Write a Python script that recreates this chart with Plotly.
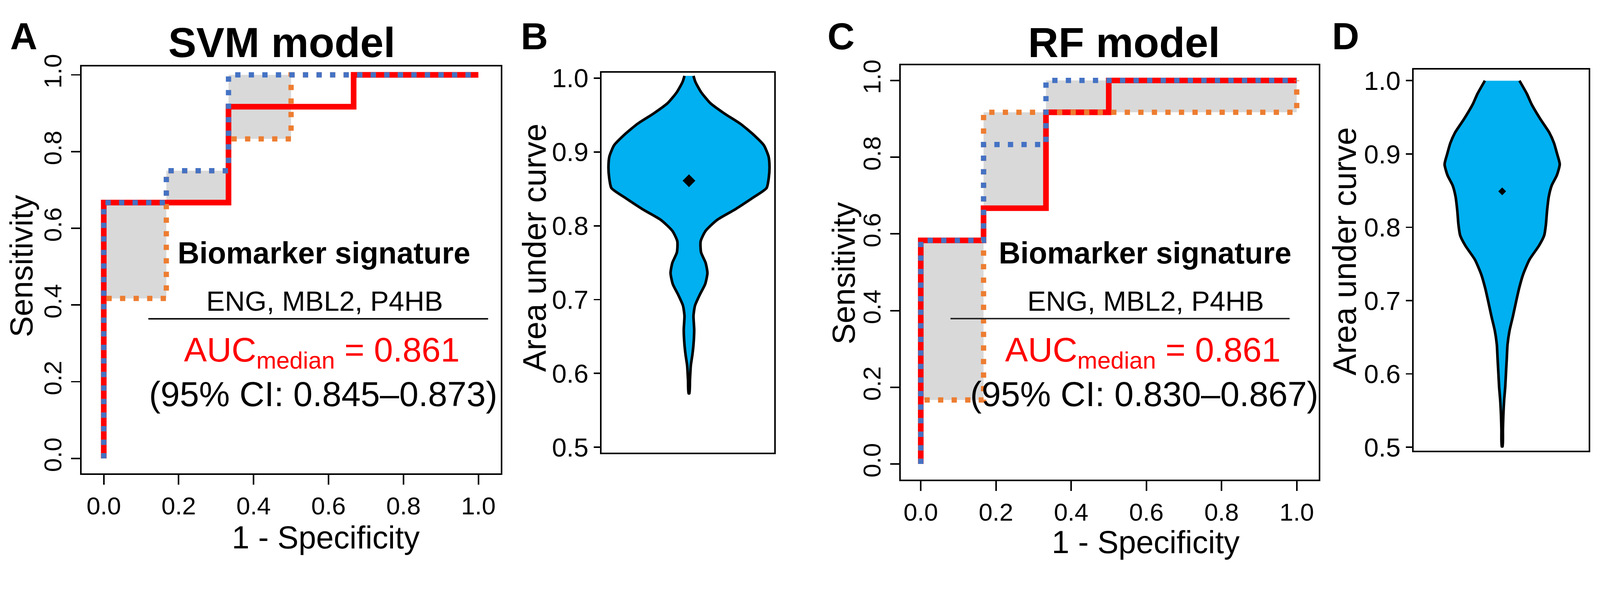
import plotly.graph_objects as go

W, H = 4252, 1535
FONT = "Liberation Sans, Arial, sans-serif"

# ---------------- data ----------------
# Panel A: SVM model ROC curves (corner points, drawn as horizontal-then-vertical steps)
svm_med_fpr = [0.0, 0.0, 0.333, 0.667, 1.0]
svm_med_tpr = [0.0, 0.667, 0.917, 1.0, 1.0]
svm_hi_fpr = [0.0, 0.0, 0.167, 0.333, 1.0]
svm_hi_tpr = [0.0, 0.667, 0.75, 1.0, 1.0]
svm_lo_fpr = [0.0, 0.0, 0.167, 0.333, 0.5, 1.0]
svm_lo_tpr = [0.0, 0.417, 0.75, 0.833, 1.0, 1.0]
svm_band_x = [0.0, 0.167, 0.333, 0.5]
svm_band_lo = [0.417, 0.667, 0.833]
svm_band_hi = [0.667, 0.75, 1.0]

# Panel C: RF model ROC curves
rf_med_fpr = [0.0, 0.0, 0.167, 0.333, 0.5, 1.0]
rf_med_tpr = [0.0, 0.583, 0.667, 0.917, 1.0, 1.0]
rf_hi_fpr = [0.0, 0.0, 0.167, 0.333, 1.0]
rf_hi_tpr = [0.0, 0.583, 0.833, 1.0, 1.0]
rf_lo_fpr = [0.0, 0.0, 0.167, 1.0]
rf_lo_tpr = [0.0, 0.167, 0.917, 1.0]
rf_band_x = [0.0, 0.167, 0.333, 1.0]
rf_band_lo = [0.167, 0.667, 0.917]
rf_band_hi = [0.583, 0.917, 1.0]

# Panel B: SVM AUC distribution (violin profile: AUC value, relative density)
svm_auc_y = [1.003, 0.995, 0.981, 0.966, 0.952, 0.938, 0.923, 0.909, 0.894, 0.880,
             0.865, 0.851, 0.837, 0.822, 0.808, 0.793, 0.779, 0.764, 0.750, 0.736,
             0.721, 0.707, 0.692, 0.678, 0.659, 0.639, 0.625, 0.611, 0.591, 0.573]
svm_auc_dens = [0.056, 0.079, 0.150, 0.266, 0.440, 0.640, 0.805, 0.930, 0.988, 1.000,
                0.991, 0.963, 0.780, 0.570, 0.350, 0.206, 0.145, 0.150, 0.206, 0.229,
                0.201, 0.136, 0.075, 0.056, 0.065, 0.056, 0.042, 0.023, 0.012, 0.005]
svm_auc_center = 0.861

# Panel D: RF AUC distribution
rf_auc_y = [1.0, 0.982, 0.968, 0.948, 0.929, 0.915, 0.900, 0.886, 0.871, 0.857,
            0.842, 0.823, 0.804, 0.789, 0.775, 0.756, 0.736, 0.717, 0.698, 0.678,
            0.659, 0.640, 0.621, 0.601, 0.582, 0.563, 0.543, 0.524, 0.501]
rf_auc_dens = [0.300, 0.430, 0.510, 0.660, 0.820, 0.900, 0.955, 1.000, 0.950, 0.860,
               0.810, 0.780, 0.760, 0.730, 0.640, 0.475, 0.365, 0.295, 0.240, 0.185,
               0.128, 0.093, 0.080, 0.066, 0.053, 0.033, 0.020, 0.013, 0.007]
rf_auc_center = 0.849

tick_roc = [0.0, 0.2, 0.4, 0.6, 0.8, 1.0]
tick_auc = [0.5, 0.6, 0.7, 0.8, 0.9, 1.0]

RED = "#FF0000"
BLUE = "#4472C4"
ORANGE = "#ED7D31"
GREY = "#D9D9D9"
VIOLIN = "#00B0F0"


def fx(px):
    return px / W


def fy(py):
    return 1 - py / H


def band_polygon(xe, lo, hi):
    xs, ys = [], []
    for i in range(len(lo)):
        xs += [xe[i], xe[i + 1]]
        ys += [lo[i], lo[i]]
    for i in reversed(range(len(hi))):
        xs += [xe[i + 1], xe[i]]
        ys += [hi[i], hi[i]]
    return xs, ys


def violin_outline(yv, dens):
    xs = list(dens) + [-d for d in dens[::-1]]
    ys = list(yv) + list(yv[::-1])
    return xs, ys


fig = go.Figure()


def add_roc(xa, ya, band, med, lo, hi):
    bx, by = band_polygon(*band)
    fig.add_trace(go.Scatter(x=bx, y=by, fill="toself", fillcolor=GREY, mode="lines",
                             line=dict(width=0, color=GREY), xaxis=xa, yaxis=ya,
                             showlegend=False, hoverinfo="skip"))
    fig.add_trace(go.Scatter(x=med[0], y=med[1], mode="lines", line_shape="hv",
                             line=dict(color=RED, width=15), xaxis=xa, yaxis=ya,
                             showlegend=False))
    fig.add_trace(go.Scatter(x=lo[0], y=lo[1], mode="lines", line_shape="hv",
                             line=dict(color=ORANGE, width=14, dash="14px,22px"),
                             xaxis=xa, yaxis=ya, showlegend=False))
    fig.add_trace(go.Scatter(x=hi[0], y=hi[1], mode="lines", line_shape="hv",
                             line=dict(color=BLUE, width=14, dash="14px,22px"),
                             xaxis=xa, yaxis=ya, showlegend=False))


add_roc("x", "y", (svm_band_x, svm_band_lo, svm_band_hi),
        (svm_med_fpr, svm_med_tpr), (svm_lo_fpr, svm_lo_tpr), (svm_hi_fpr, svm_hi_tpr))
add_roc("x3", "y3", (rf_band_x, rf_band_lo, rf_band_hi),
        (rf_med_fpr, rf_med_tpr), (rf_lo_fpr, rf_lo_tpr), (rf_hi_fpr, rf_hi_tpr))


def add_violin(xa, ya, yv, dens, center, msize):
    vx, vy = violin_outline(yv, dens)
    fig.add_trace(go.Scatter(x=vx, y=vy, fill="toself", fillcolor=VIOLIN, mode="lines",
                             line=dict(color="black", width=7, shape="spline", smoothing=0.6),
                             xaxis=xa, yaxis=ya, showlegend=False))
    fig.add_trace(go.Scatter(x=[0], y=[center], mode="markers",
                             marker=dict(symbol="diamond", size=msize, color="black"),
                             xaxis=xa, yaxis=ya, showlegend=False))


add_violin("x2", "y2", svm_auc_y, svm_auc_dens, svm_auc_center, 26)
add_violin("x4", "y4", rf_auc_y, rf_auc_dens, rf_auc_center, 16)

base = dict(showline=True, linecolor="black", linewidth=4, mirror=True, showgrid=False,
            zeroline=False, ticks="outside", tickwidth=4, tickcolor="black",
            tickfont=dict(family=FONT, size=66, color="black"))

roc_x = dict(base, tickvals=tick_roc, tickformat=".1f", ticklen=26)
roc_y = dict(base, tickvals=tick_roc, tickformat=".1f", ticklen=24, tickangle=-90)
auc_y = dict(base, tickvals=tick_auc, tickformat=".1f", ticklen=17,
             tickfont=dict(family=FONT, size=70, color="black"))
vio_x = dict(base, ticks="", showticklabels=False)

fig.update_layout(
    width=W, height=H, margin=dict(l=0, r=0, t=0, b=0),
    paper_bgcolor="white", plot_bgcolor="white", showlegend=False,
    font=dict(family=FONT, color="black"),
    xaxis=dict(roc_x, domain=[fx(217), fx(1331)], range=[-0.059, 1.060]),
    yaxis=dict(roc_y, domain=[fy(1276), fy(149)], range=[-0.0386, 1.0216]),
    xaxis2=dict(vio_x, domain=[fx(1599), fx(2058)], range=[-1.084, 1.061], anchor="y2"),
    yaxis2=dict(auc_y, domain=[fy(1219), fy(166)], range=[0.4927, 1.0073], anchor="x2"),
    xaxis3=dict(roc_x, domain=[fx(2394), fx(3505)], range=[-0.053, 1.059], anchor="y3"),
    yaxis3=dict(roc_y, domain=[fy(1294), fy(145)], range=[-0.041, 1.040], anchor="x3"),
    xaxis4=dict(vio_x, domain=[fx(3757), fx(4222)], range=[-1.536, 1.503], anchor="y4"),
    yaxis4=dict(auc_y, domain=[fy(1214), fy(157)], range=[0.495, 1.0153], anchor="x4"),
)

# separator lines in the text blocks
fig.add_shape(type="line", xref="x", yref="y", x0=0.119, x1=1.026, y0=0.364, y1=0.364,
              line=dict(color="black", width=4))
fig.add_shape(type="line", xref="x3", yref="y3", x0=0.079, x1=0.981, y0=0.379, y1=0.379,
              line=dict(color="#222222", width=4))


def ann(text, px, py, size, bold=False, color="black", angle=0):
    if bold:
        text = "<b>" + text + "</b>"
    fig.add_annotation(text=text, x=fx(px), y=fy(py), xref="paper", yref="paper",
                       xanchor="center", yanchor="middle", showarrow=False,
                       textangle=angle, font=dict(family=FONT, size=size, color=color))


# panel letters
ann("A", 63, 65, 100, bold=True)
ann("B", 1420, 65, 100, bold=True)
ann("C", 2235, 65, 100, bold=True)
ann("D", 3576, 65, 100, bold=True)

# titles
ann("SVM model", 749, 83, 112, bold=True)
ann("RF model", 2987, 83, 112, bold=True)

# axis titles
ann("Sensitivity", 57, 702, 84, angle=-90)
ann("1 - Specificity", 866, 1454, 84)
ann("Area under curve", 1420, 651, 86, angle=-90)
ann("Sensitivity", 2242, 722, 84, angle=-90)
ann("1 - Specificity", 3045, 1467, 84)
ann("Area under curve", 3574, 661, 86, angle=-90)

# text blocks
for dx, ci in [(0, "(95% CI: 0.845\u20130.873)"), (2182, "(95% CI: 0.830\u20130.867)")]:
    ann("Biomarker signature", 861 + dx, 666, 80, bold=True)
    ann("ENG, MBL2, P4HB", 862 + dx, 799, 74)
    ann("AUC<sub>median</sub> = 0.861", 855 + dx, 940, 91, color=RED)
    ann(ci, 859 + dx, 1057, 92)

# fit the fixed-size figure exactly into the browser viewport
post = """
var gd = document.getElementById('{plot_id}');
document.documentElement.style.margin = '0';
document.documentElement.style.overflow = 'hidden';
document.body.style.margin = '0';
document.body.style.overflow = 'hidden';
var k = Math.min(window.innerWidth / %d, window.innerHeight / %d);
gd.style.transformOrigin = '0 0';
gd.style.transform = 'scale(' + k + ')';
""" % (W, H)

fig.write_html("out.html", post_script=post, config={"displayModeBar": False})
